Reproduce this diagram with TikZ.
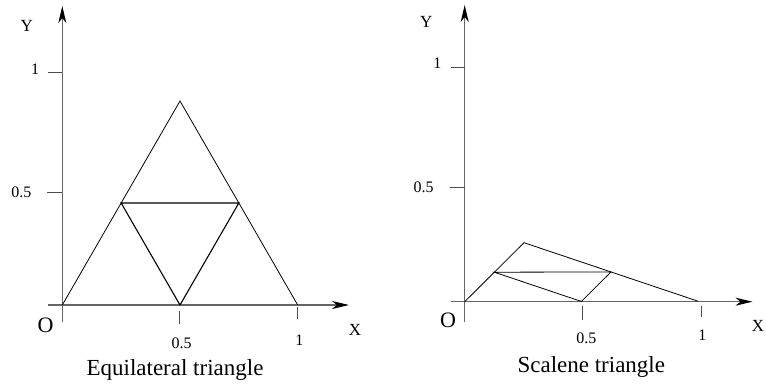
\documentclass[tikz,border=0pt]{standalone}
\usepackage{fontspec}
\setmainfont{Liberation Serif}
\usetikzlibrary{arrows.meta,calc}
\begin{document}
\begin{tikzpicture}[x=1pt,y=-1pt,
  axis/.style={draw=black!60,line width=1.3pt,-{Stealth[length=17pt,width=8pt,inset=5pt,color=black]}},
  tickmark/.style={draw=black!70,line width=1pt},
  tri/.style={draw=black,line width=0.8pt,line join=miter},
  innertri/.style={draw=black,line width=1.1pt},
  axlab/.style={font=\fontsize{17}{17}\selectfont,inner sep=0pt},
  olab/.style={font=\fontsize{22}{22}\selectfont,inner sep=0pt},
  numlab/.style={font=\fontsize{16}{16}\selectfont,inner sep=0pt},
  caplab/.style={font=\fontsize{23}{23}\selectfont,inner sep=0pt}]
\useasboundingbox (0,0) rectangle (766,389);
% ---------- left: equilateral ----------
\coordinate (lxs) at (48,305);
\coordinate (lxe) at (349,305);
\coordinate (lys) at (62.3,322);
\coordinate (lye) at (62.3,6);
\draw[axis] (lxs) -- (lxe);
\draw[axis] (lys) -- (lye);
\coordinate (ly1a) at (48,72.3);   \coordinate (ly1b) at (62.3,72.3);
\coordinate (ly5a) at (47,192.3);  \coordinate (ly5b) at (62.3,192.3);
\coordinate (lx5a) at (179.5,311); \coordinate (lx5b) at (179.5,324);
\coordinate (lx1a) at (297.7,307); \coordinate (lx1b) at (297.7,319);
\draw[tickmark] (ly1a) -- (ly1b);
\draw[tickmark] (ly5a) -- (ly5b);
\draw[tickmark] (lx5a) -- (lx5b);
\draw[tickmark] (lx1a) -- (lx1b);
\coordinate (A) at (62.3,305);
\coordinate (B) at (297.7,305);
\coordinate (C) at (180,101);
\coordinate (D) at ($(A)!0.5!(C)$);
\coordinate (E) at ($(B)!0.5!(C)$);
\coordinate (F) at ($(A)!0.5!(B)$);
\draw[tri] (A) -- (C) -- (B);
\draw[innertri] (D) -- (E) -- (F) -- cycle;
\node[axlab] (lY) at (26.7,26) {Y};
\node[numlab] (l1) at (35,69.5) {1};
\node[numlab] (l05) at (21.5,192.5) {0.5};
\node[olab] (lO) at (45.5,325) {O};
\node[axlab] (lX) at (355,330) {X};
\node[numlab] (lx05) at (181.5,343.5) {0.5};
\node[numlab] (lx1) at (299.3,340) {1};
\node[caplab] (lcap) at (175,370) {Equilateral triangle};
% ---------- right: scalene ----------
\coordinate (rxs) at (451,301.7);
\coordinate (rxe) at (752.5,301.7);
\coordinate (rys) at (464.7,322);
\coordinate (rye) at (464.7,5);
\draw[axis] (rxs) -- (rxe);
\draw[axis] (rys) -- (rye);
\coordinate (ry1a) at (451,67.3);   \coordinate (ry1b) at (464.7,67.3);
\coordinate (ry5a) at (450,187.7);  \coordinate (ry5b) at (464.7,187.7);
\coordinate (rx5a) at (582.3,306);  \coordinate (rx5b) at (582.3,320);
\coordinate (rx1a) at (701.3,306);  \coordinate (rx1b) at (701.3,317);
\draw[tickmark] (ry1a) -- (ry1b);
\draw[tickmark] (ry5a) -- (ry5b);
\draw[tickmark] (rx5a) -- (rx5b);
\draw[tickmark] (rx1a) -- (rx1b);
\coordinate (P) at (464.7,301.7);
\coordinate (Q) at (698,301.2);
\coordinate (R) at (524,242.7);
\coordinate (S) at ($(P)!0.5!(R)$);
\coordinate (T) at ($(R)!0.5!(Q)$);
\coordinate (U) at ($(P)!0.5!(Q)$);
\draw[tri] (P) -- (R) -- (Q);
\draw[tri] (S) -- (T) -- (U) -- cycle;
\node[axlab] (rY) at (426.3,21.7) {Y};
\node[numlab] (r1) at (437.3,63.5) {1};
\node[numlab] (r05) at (423.7,187.7) {0.5};
\node[olab] (rO) at (448,320) {O};
\node[axlab] (rX) at (758,326) {X};
\node[numlab] (rx05) at (586.3,338.3) {0.5};
\node[numlab] (rx1) at (702.3,335) {1};
\node[caplab] (rcap) at (591.3,366.7) {Scalene triangle};
\end{tikzpicture}
\end{document}
